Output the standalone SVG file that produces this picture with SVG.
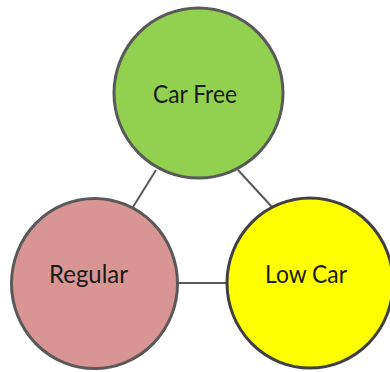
<svg xmlns="http://www.w3.org/2000/svg" width="390" height="372" viewBox="0 0 390 372">
<style>
.node{stroke:#595959;stroke-width:3}
.conn{stroke:#595959;stroke-width:2;fill:none}
.lbl{font-family:Lato,"Open Sans",sans-serif;font-size:25px;fill:#1a1a1a;text-anchor:middle}
</style>
<rect width="390" height="372" fill="#ffffff"/>
<g id="connectors">
<line class="conn" x1="156" y1="170" x2="133" y2="207"/>
<line class="conn" x1="238" y1="170" x2="272" y2="207"/>
<line class="conn" x1="177" y1="283" x2="227" y2="283"/>
</g>
<g id="carfree">
<ellipse class="node" cx="198.5" cy="93" rx="84.5" ry="85" fill="#92D050"/>
<text class="lbl" x="195" y="103" textLength="84" lengthAdjust="spacingAndGlyphs">Car Free</text>
</g>
<g id="regular">
<ellipse class="node" cx="94.5" cy="283.5" rx="83" ry="85" fill="#D99594"/>
<text class="lbl" x="88.5" y="283" textLength="79" lengthAdjust="spacingAndGlyphs">Regular</text>
</g>
<g id="lowcar">
<ellipse class="node" cx="310" cy="283" rx="83" ry="85" fill="#FFFF00" style="stroke:#404040"/>
<text class="lbl" x="306" y="283" textLength="82" lengthAdjust="spacingAndGlyphs">Low Car</text>
</g>
</svg>
